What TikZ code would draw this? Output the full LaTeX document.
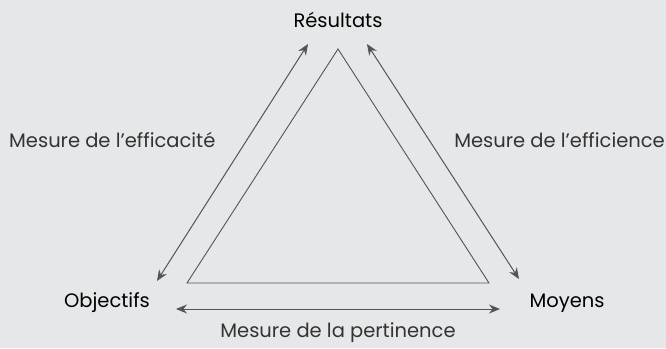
\documentclass[tikz,border=0pt]{standalone}
\usepackage{fontspec}
\setmainfont{Poppins}
\usetikzlibrary{arrows.meta}

\definecolor{fond}{HTML}{E6E7E8}
\definecolor{trait}{HTML}{555555}

\begin{document}
\begin{tikzpicture}[
    x=1pt, y=-1pt,
    every node/.style={inner sep=0pt, text=black},
    pole/.style={font=\fontsize{19.5}{22}\selectfont},
    mesure/.style={font=\fontsize{19.5}{22}\selectfont, text=black!80},
    cote/.style={draw=trait, line width=0.9pt},
    fleche/.style={draw=trait, line width=1pt, {Stealth[length=11pt,width=9pt]}-{Stealth[length=11pt,width=9pt]}}
]
    % Fond gris
    \fill[fond] (0,0) rectangle (666,348);
    \useasboundingbox (0,0) rectangle (666,348);

    % Sommets du triangle
    \coordinate (A) at (338,49);
    \coordinate (B) at (187,283);
    \coordinate (C) at (489,283);
    \draw[cote] (A) -- (B) -- (C) -- cycle;

    % Les trois poles
    \node[pole] (res) at (338,20) {Résultats};
    \node[pole] (obj) at (107,303) {Objectifs};
    \node[pole] (moy) at (567,303) {Moyens};

    % Extremites des fleches
    \coordinate (g1) at (308,44);
    \coordinate (g2) at (157,281);
    \coordinate (d1) at (367,44);
    \coordinate (d2) at (519,279);
    \coordinate (b1) at (176,309);
    \coordinate (b2) at (500,309);

    \draw[fleche] (g2) -- (g1);
    \draw[fleche] (d1) -- (d2);
    \draw[fleche] (b1) -- (b2);

    % Mesures
    \node[mesure, anchor=west] (eff) at (9,140) {Mesure de l’efficacité};
    \node[mesure, anchor=east] (eci) at (665,140) {Mesure de l’efficience};
    \node[mesure] (per) at (338,333) {Mesure de la pertinence};
\end{tikzpicture}
\end{document}
